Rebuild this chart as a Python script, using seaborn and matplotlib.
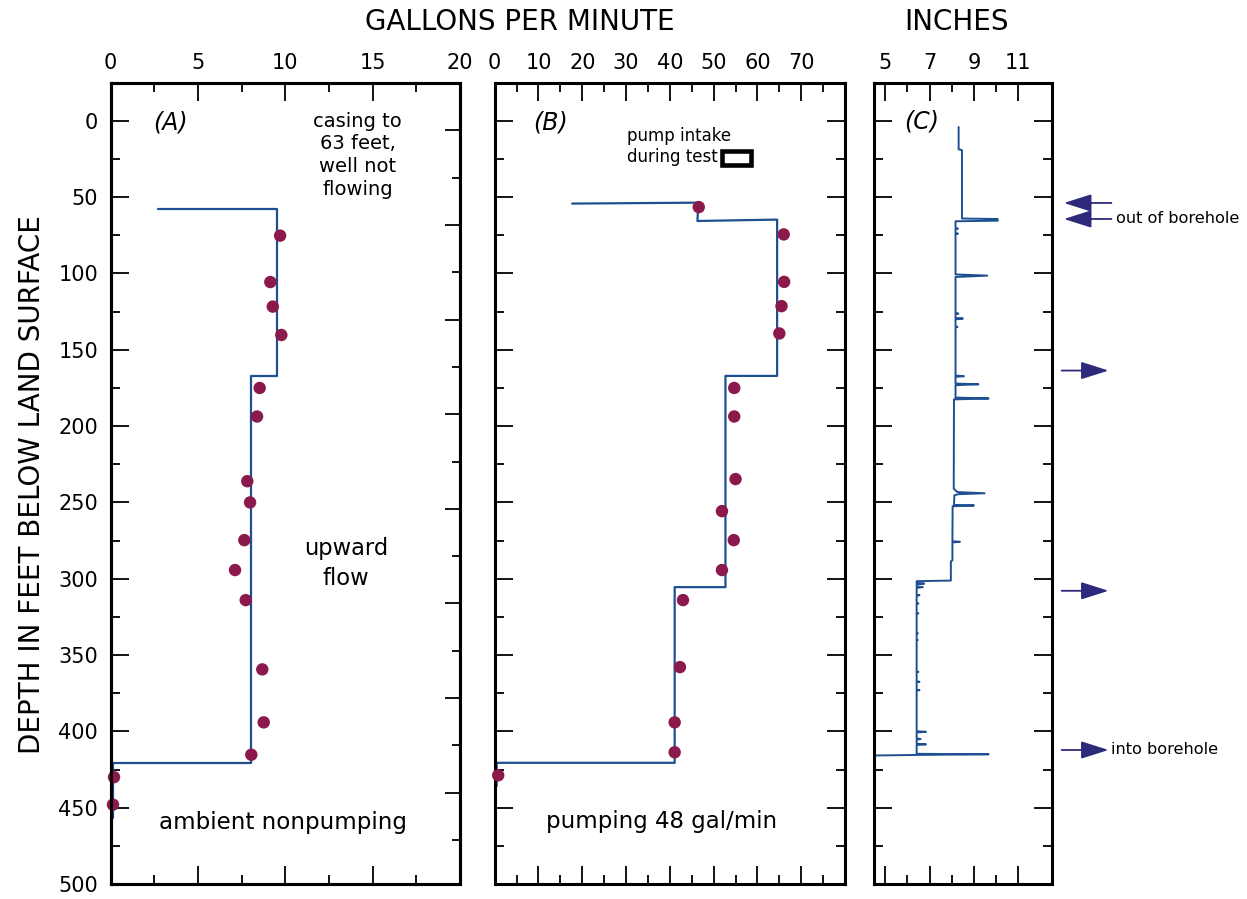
import numpy as np
import pandas as pd
import matplotlib
matplotlib.use("Agg")
import matplotlib.pyplot as plt
import seaborn as sns
from matplotlib.ticker import FixedLocator, NullFormatter
from matplotlib.patches import Rectangle

# ---------------- DATA ----------------
# Panel A: ambient (nonpumping) flow, gallons per minute
a_line_gpm = [2.7, 9.55, 9.55, 8.05, 8.05, 0.15, 0.15]
a_line_depth = [57.5, 57.5, 167.0, 167.0, 420.6, 420.6, 457.0]
a_pts_gpm = [9.70, 9.14, 9.28, 9.77, 8.53, 8.38, 7.82, 7.98, 7.65, 7.12, 7.73, 8.68, 8.76, 8.05, 0.19, 0.13]
a_pts_depth = [75.2, 105.6, 121.7, 140.3, 175.0, 193.7, 236.1, 250.0, 274.7, 294.3, 314.0, 359.4, 394.1, 415.3, 430.0, 448.0]

# Panel B: pumping 48 gal/min
b_line_gpm = [17.7, 46.5, 46.3, 64.5, 64.5, 52.7, 52.7, 41.1, 41.1, 0.45, 0.45]
b_line_depth = [54.2, 53.6, 65.6, 64.7, 167.1, 167.1, 305.5, 305.5, 420.6, 420.6, 435.8]
b_pts_gpm = [46.6, 66.0, 66.1, 65.5, 65.0, 54.7, 54.7, 55.0, 51.9, 54.6, 51.9, 43.0, 42.3, 41.1, 41.1, 0.8]
b_pts_depth = [56.5, 74.4, 105.5, 121.4, 139.3, 175.0, 193.7, 234.7, 255.7, 274.7, 294.3, 314.0, 357.9, 394.1, 413.7, 428.8]

# Panel C: caliper log, inches
c_inches = [8.31, 8.31, 8.46, 8.46, 10.07, 10.07, 8.17,
            8.17, 8.28, 8.17, 8.17, 8.28, 8.17,
            8.17, 9.60, 8.17,
            8.17, 8.30, 8.17, 8.17, 8.50, 8.17, 8.17, 8.26, 8.17,
            8.17, 8.55, 8.17, 8.17, 9.20, 8.17, 8.17, 9.66, 8.10,
            8.09, 8.25, 9.48, 8.30, 8.12, 8.10, 9.00, 8.04,
            8.03, 8.37, 8.03, 8.03, 7.96, 7.96, 6.42,
            6.42, 6.76, 6.42, 6.42, 6.70, 6.42, 6.42, 6.55, 6.42,
            6.42, 6.50, 6.42, 6.42, 6.50, 6.42,
            6.42, 6.48, 6.42, 6.42, 6.47, 6.42,
            6.42, 6.50, 6.42, 6.42, 6.55, 6.42, 6.42, 6.55, 6.42,
            6.42, 6.84, 6.42, 6.42, 6.60, 6.42, 6.42, 6.84, 6.42,
            6.42, 9.66, 6.70, 4.0]
c_depth = [4.0, 18.6, 19.2, 64.0, 64.3, 65.4, 65.8,
           70.2, 70.6, 71.0, 73.5, 73.9, 74.3,
           100.6, 101.4, 102.3,
           125.9, 126.3, 126.7, 129.1, 129.5, 130.0, 134.6, 135.0, 135.4,
           166.9, 167.3, 167.7, 172.1, 172.6, 173.2, 181.3, 181.9, 182.5,
           241.0, 243.2, 244.0, 244.6, 245.3, 251.6, 252.0, 252.5,
           275.4, 275.8, 276.2, 288.0, 288.6, 301.2, 301.6,
           302.8, 303.2, 303.6, 305.0, 305.5, 306.0, 310.4, 310.8, 311.2,
           315.9, 316.2, 316.5, 322.4, 322.7, 323.0,
           335.5, 335.8, 336.1, 339.9, 340.2, 340.5,
           360.7, 361.0, 361.3, 367.2, 367.5, 367.8, 372.7, 373.0, 373.3,
           399.9, 400.3, 400.7, 404.6, 405.0, 405.4, 408.1, 408.5, 408.9,
           414.7, 415.0, 415.4, 415.9]

# Flow arrows beside panel C
arrow_depths = [53.8, 64.3, 163.6, 307.9, 412.2]
arrow_out = [True, True, False, False, False]

# Pump intake symbol (panel B)
pump_gpm = (52.0, 58.5)
pump_depth = (19.6, 28.6)

# Tick labels
a_xticks = [0, 5, 10, 15, 20]
b_xticks = [0, 10, 20, 30, 40, 50, 60, 70]
c_xticks = [5, 7, 9, 11]
depth_ticks = [0, 50, 100, 150, 200, 250, 300, 350, 400, 450, 500]

# ---------------- STYLE ----------------
sns.set_style("ticks")
plt.rcParams['font.family'] = ['DejaVu Sans']
plt.rcParams.update({
    'text.color': 'black', 'axes.edgecolor': 'black', 'axes.labelcolor': 'black',
    'xtick.color': 'black', 'ytick.color': 'black',
    'xtick.labelcolor': 'black', 'ytick.labelcolor': 'black',
})
LINE = '#1e5091'
DOT = '#8c194b'
NAVY = '#2e2a7b'

fig = plt.figure(figsize=(12.47, 8.99), dpi=100)
bottom, height = 0.016685, 0.89133
axA = fig.add_axes([0.08877, bottom, 0.28012, height])
axB = fig.add_axes([0.39671, bottom, 0.28092, height])
axC = fig.add_axes([0.70088, bottom, 0.14250, height])


def style_axis(ax, xlim, xmaj, xmin, right=True, labelleft=False):
    ax.set_xlim(*xlim)
    ax.set_ylim(500, -25)
    ax.xaxis.set_major_locator(FixedLocator(xmaj))
    ax.xaxis.set_minor_locator(FixedLocator(xmin))
    ax.yaxis.set_major_locator(FixedLocator(depth_ticks))
    ax.yaxis.set_minor_locator(FixedLocator([d + 25 for d in depth_ticks[:-1]]))
    ax.xaxis.set_minor_formatter(NullFormatter())
    ax.tick_params(which='both', direction='in', top=True, bottom=True,
                   left=True, right=right, labeltop=True, labelbottom=False,
                   labelleft=labelleft, labelright=False, width=1.3,
                   color='black', labelcolor='black', labelsize=15)
    ax.tick_params(which='major', length=13)
    ax.tick_params(which='minor', length=6.5)
    ax.tick_params(axis='x', which='major', pad=7)
    ax.tick_params(axis='y', which='major', pad=9)
    for s in ax.spines.values():
        s.set_linewidth(2.2)
        s.set_color('black')
    ax.set_xlabel('')
    ax.set_ylabel('')


# Panel A
sns.lineplot(x=a_line_gpm, y=a_line_depth, sort=False, estimator=None,
             ax=axA, color=LINE, lw=1.6)
sns.scatterplot(x=a_pts_gpm, y=a_pts_depth, ax=axA, color=DOT, s=80,
                edgecolor='none', zorder=3, clip_on=False)
style_axis(axA, (0, 20), a_xticks, [2.5, 7.5, 12.5, 17.5], right=False, labelleft=True)
axA_r = axA.twinx()
axA_r.set_ylim(500, -25)
r_ticks = [6.2 + 31.0 * k for k in range(16)]
axA_r.yaxis.set_major_locator(FixedLocator(r_ticks[0::2]))
axA_r.yaxis.set_minor_locator(FixedLocator(r_ticks[1::2]))
axA_r.tick_params(which='both', direction='in', right=True, left=False,
                  labelright=False, width=1.3, color='black')
axA_r.tick_params(which='major', length=11)
axA_r.tick_params(which='minor', length=6)
for s in axA_r.spines.values():
    s.set_linewidth(2.2)
    s.set_color('black')
axA_r.grid(False)

axA.text(3.4, 1, '(A)', fontsize=17, style='italic', ha='center', va='center')
axA.text(14.13, 22.5, 'casing to\n63 feet,\nwell not\nflowing', fontsize=14,
         ha='center', va='center', multialignment='center', linespacing=1.25)
axA.text(13.46, 289.8, 'upward\nflow', fontsize=16.3, ha='center', va='center',
         multialignment='center', linespacing=1.4)
axA.text(9.84, 464.2, 'ambient nonpumping', fontsize=16.6, ha='center', va='baseline')

# Panel B
sns.lineplot(x=b_line_gpm, y=b_line_depth, sort=False, estimator=None,
             ax=axB, color=LINE, lw=1.6)
sns.scatterplot(x=b_pts_gpm, y=b_pts_depth, ax=axB, color=DOT, s=80,
                edgecolor='none', zorder=3, clip_on=False)
style_axis(axB, (0, 80), b_xticks, [5, 15, 25, 35, 45, 55, 65, 75])
axB.add_patch(Rectangle((pump_gpm[0], pump_depth[0]), pump_gpm[1] - pump_gpm[0],
                        pump_depth[1] - pump_depth[0], facecolor='white',
                        edgecolor='black', lw=3.3, zorder=4))
axB.text(12.8, 1, '(B)', fontsize=17, style='italic', ha='center', va='center')
axB.text(30.1, 17.0, 'pump intake\nduring test', fontsize=12, ha='left', va='center',
         linespacing=1.2)
axB.text(38.13, 463.5, 'pumping 48 gal/min', fontsize=16.5, ha='center', va='baseline')

# Panel C
sns.lineplot(x=c_inches, y=c_depth, sort=False, estimator=None,
             ax=axC, color=LINE, lw=1.4)
style_axis(axC, (4.5, 12.5), c_xticks, [6, 8, 10])
axC.text(6.64, 0.5, '(C)', fontsize=17, style='italic', ha='center', va='center')

for d, out in zip(arrow_depths, arrow_out):
    if out:
        head, tail = 1.069, 1.336
    else:
        head, tail = 1.32, 1.056
    axC.annotate('', xy=(head, d), xytext=(tail, d),
                 xycoords=('axes fraction', 'data'),
                 textcoords=('axes fraction', 'data'),
                 arrowprops=dict(arrowstyle='-|>,head_length=0.85,head_width=0.27',
                                 mutation_scale=20, lw=1.3, color=NAVY,
                                 shrinkA=0, shrinkB=0),
                 annotation_clip=False)
axC.text(1.362, arrow_depths[1], 'out of borehole', fontsize=11.6, ha='left',
         va='center', transform=axC.get_yaxis_transform())
axC.text(1.335, arrow_depths[4], 'into borehole', fontsize=11.6, ha='left',
         va='center', transform=axC.get_yaxis_transform())

# Figure-level titles
fig.text(0.417, 0.9755, 'GALLONS PER MINUTE', fontsize=20, ha='center', va='center')
fig.text(0.7667, 0.9755, 'INCHES', fontsize=20, ha='center', va='center')
fig.text(0.0257, 0.4605, 'DEPTH IN FEET BELOW LAND SURFACE', fontsize=20,
         ha='center', va='center', rotation=90)

fig.savefig('out.png', dpi=100)
